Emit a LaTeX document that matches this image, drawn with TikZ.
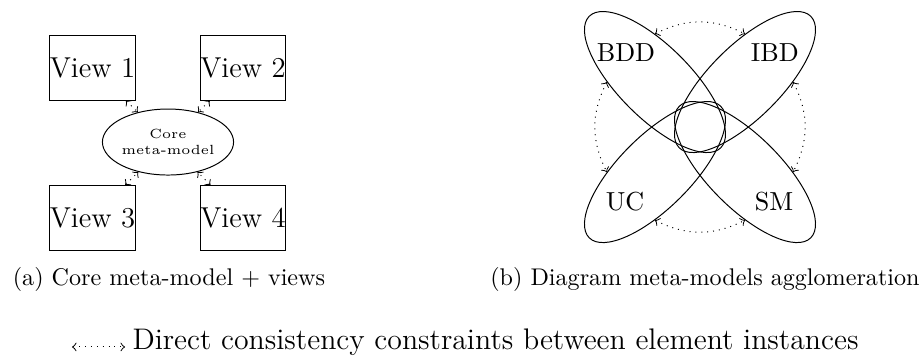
\documentclass[tikz,border=0pt]{standalone}
\usepackage{fontspec}
\usepackage{tikz}
\usetikzlibrary{shapes.geometric}

\begin{document}
\begin{tikzpicture}[
    viewbox/.style={draw, rectangle, inner xsep=0pt, minimum width=1.157cm, minimum height=0.929cm, font=\fontsize{11.7}{14}\selectfont},
    corebox/.style={draw, ellipse, inner sep=0pt, minimum width=1.857cm, minimum height=0.943cm, align=center, font=\fontsize{5.4}{6.4}\selectfont},
    metamodel/.style={draw, ellipse, minimum width=2.657cm, minimum height=1.029cm},
    mmlabel/.style={font=\fontsize{10.6}{13}\selectfont},
    link/.style={<->, dotted},
    caption/.style={anchor=base, font=\fontsize{9.8}{12}\selectfont}
]
    \useasboundingbox (0,0) rectangle (13.143,5.086);

    % Core meta-model and the views
    \node[corebox] (Core) at (2.4,3.057) {Core\\meta-model};
    \node[viewbox] (V1) at (1.321,4.121) {View 1};
    \node[viewbox] (V2) at (3.471,4.121) {View 2};
    \node[viewbox] (V3) at (1.321,1.971) {View 3};
    \node[viewbox] (V4) at (3.471,1.971) {View 4};

    \draw[link] (V1) -- (Core);
    \draw[link] (V2) -- (Core);
    \draw[link] (V3) -- (Core);
    \draw[link] (V4) -- (Core);

    % Diagram meta-models (anchor angles are in the rotated frame of each ellipse)
    \node[metamodel, rotate=-45] (BDD) at (9.357,3.914) {};
    \node[metamodel, rotate=45] (IBD) at (10.643,3.914) {};
    \node[metamodel, rotate=45] (UC) at (9.357,2.628) {};
    \node[metamodel, rotate=-45] (SM) at (10.643,2.628) {};

    \node[mmlabel] (BDDt) at (8.943,4.341) {BDD};
    \node[mmlabel] (IBDt) at (11.07,4.341) {IBD};
    \node[mmlabel] (UCt) at (8.93,2.2) {UC};
    \node[mmlabel] (SMt) at (11.057,2.2) {SM};

    \draw[link] (BDD.135) to[bend left=27] (IBD.45);
    \draw[link] (BDD.225) to[bend right=27] (UC.135);
    \draw[link] (IBD.-45) to[bend left=27] (SM.45);
    \draw[link] (UC.-135) to[bend right=27] (SM.-45);

    % Captions
    \node[caption] (capA) at (2.414,1.014) {(a) Core meta-model + views};
    \node[caption] (capB) at (10.071,1.014) {(b) Diagram meta-models agglomeration};

    % Legend
    \coordinate (L) at (1.029,0.129);
    \node[anchor=base west, inner xsep=0.1cm, font=\fontsize{12.1}{14}\selectfont] (legend) at (1.786,0.086) {Direct consistency constraints between element instances};
    \draw[link] (L) -- (L -| legend.west);
\end{tikzpicture}
\end{document}
